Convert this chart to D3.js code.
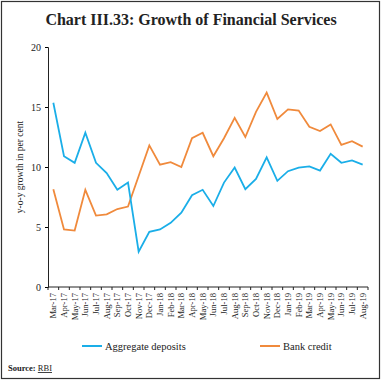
<!DOCTYPE html>
<html>
<head>
<meta charset="utf-8">
<script src="https://d3js.org/d3.v7.min.js"></script>
<style>
  body { margin: 0; background: #fff; }
  text { font-family: "Liberation Serif", "DejaVu Serif", serif; fill: #222; }
</style>
</head>
<body>
<svg width="383" height="382"></svg>
<script>
// months on the x axis
var months = ["Mar-17","Apr-17","May-17","Jun-17","Jul-17","Aug-17","Sep-17","Oct-17","Nov-17","Dec-17",
  "Jan-18","Feb-18","Mar-18","Apr-18","May-18","Jun-18","Jul-18","Aug-18","Sep-18","Oct-18",
  "Nov-18","Dec-18","Jan-19","Feb-19","Mar-19","Apr-19","May-19","Jun-19","Jul-19","Aug-19"];

// y-o-y growth, per cent
var deposits = [15.35, 10.9, 10.35, 12.85, 10.35, 9.5, 8.1, 8.7, 2.95, 4.6,
  4.8, 5.35, 6.2, 7.65, 8.1, 6.75, 8.7, 9.95, 8.15, 9.0,
  10.8, 8.85, 9.65, 9.95, 10.05, 9.7, 11.1, 10.35, 10.55, 10.2];
var credit = [8.15, 4.8, 4.7, 8.1, 5.95, 6.05, 6.5, 6.7, 9.25, 11.8,
  10.2, 10.4, 10.0, 12.4, 12.85, 10.9, 12.4, 14.1, 12.5, 14.6,
  16.2, 14.0, 14.8, 14.7, 13.35, 13.0, 13.55, 11.85, 12.15, 11.7];
var yTicks = [0, 5, 10, 15, 20];

var svg = d3.select("svg");

// frame
svg.append("rect").attr("x", 1.5).attr("y", 1.5).attr("width", 378).attr("height", 377)
  .attr("fill", "none").attr("stroke", "#333").attr("stroke-width", 1.2);

svg.append("text").attr("x", 191).attr("y", 25).attr("text-anchor", "middle")
  .style("font-size", "16px").style("font-weight", "bold")
  .text("Chart III.33: Growth of Financial Services");

var x = d3.scaleBand().domain(months).range([48, 368]);
var y = d3.scaleLinear().domain([0, 20]).range([287, 47]);

// y axis
var ya = svg.append("g").attr("transform", "translate(48,0)")
  .call(d3.axisLeft(y).tickValues(yTicks).tickSize(3).tickPadding(4));
ya.selectAll("text").style("font-size", "10px");

// x axis with ticks at band edges
var xa = svg.append("g").attr("transform", "translate(0,287)");
xa.append("line").attr("x1", 48).attr("x2", 368).attr("stroke", "#222");
xa.selectAll(".tk").data(months.concat(["end"])).enter().append("line")
  .attr("x1", function(d, i) { return i < months.length ? x(d) : x.range()[1]; })
  .attr("x2", function(d, i) { return i < months.length ? x(d) : x.range()[1]; })
  .attr("y1", 0).attr("y2", 3).attr("stroke", "#222");
xa.selectAll(".lbl").data(months).enter().append("text")
  .attr("transform", function(d) { return "translate(" + (x(d) + x.bandwidth() / 2 + 3) + ",6) rotate(-90)"; })
  .attr("text-anchor", "end")
  .style("font-size", "8.6px")
  .text(function(d) { return d; });
ya.select(".domain").attr("stroke", "#222");

svg.append("text").attr("transform", "translate(23,167) rotate(-90)")
  .attr("text-anchor", "middle").style("font-size", "9.5px")
  .text("y-o-y growth in per cent");

var line = d3.line()
  .x(function(d, i) { return x(months[i]) + x.bandwidth() / 2; })
  .y(function(d) { return y(d); });

svg.append("path").datum(credit).attr("d", line)
  .attr("fill", "none").attr("stroke", "#f08a3c").attr("stroke-width", 1.8);
svg.append("path").datum(deposits).attr("d", line)
  .attr("fill", "none").attr("stroke", "#1aaee8").attr("stroke-width", 1.8);

// legend
var legend = [["Aggregate deposits", "#1aaee8", 82], ["Bank credit", "#f08a3c", 260]];
legend.forEach(function(l) {
  svg.append("line").attr("x1", l[2]).attr("x2", l[2] + 20).attr("y1", 346).attr("y2", 346)
    .attr("stroke", l[1]).attr("stroke-width", 2);
  svg.append("text").attr("x", l[2] + 23).attr("y", 349.5).style("font-size", "10.5px").text(l[0]);
});

var src = svg.append("text").attr("x", 8).attr("y", 371).style("font-size", "8.5px");
src.append("tspan").style("font-weight", "bold").text("Source: ");
src.append("tspan").style("text-decoration", "underline").text("RBI");
</script>
</body>
</html>
